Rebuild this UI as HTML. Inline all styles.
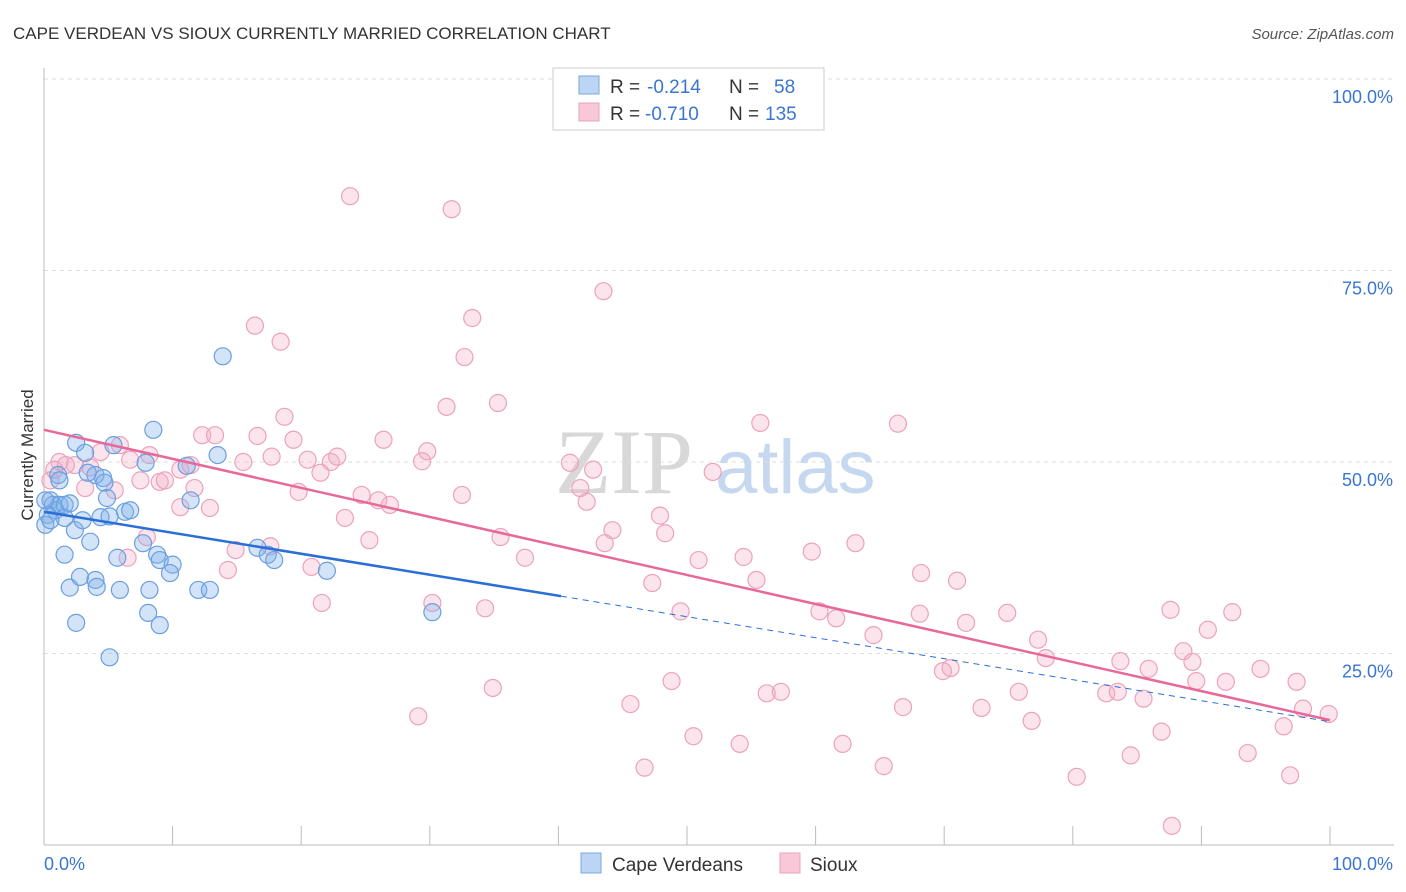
<!DOCTYPE html>
<html><head><meta charset="utf-8"><style>
body{margin:0;background:#fff;font-family:"Liberation Sans",sans-serif}
svg{display:block}
</style></head><body>
<svg id="chart" width="1406" height="892">
<text x="13" y="39" font-size="17" fill="#333">CAPE VERDEAN VS SIOUX CURRENTLY MARRIED CORRELATION CHART</text>
<text x="1394" y="39" font-size="15" fill="#555" font-style="italic" text-anchor="end">Source: ZipAtlas.com</text>
<g>
<text x="555" y="493" font-family="Liberation Serif,serif" font-size="92" fill="#d8d8d8">ZIP</text>
<text x="715" y="493" font-size="76" fill="#c5d8ef">atlas</text>
</g>
<g id="grid"></g>
<g id="axes"></g>
<g id="pts"></g>
<g id="lines"></g>
<text x="33" y="455" font-size="17" fill="#333" text-anchor="middle" transform="rotate(-90 33 455)">Currently Married</text>
<g>
<rect x="553" y="68" width="271" height="62" fill="#fff" stroke="#ccc"/>
<rect x="579" y="76" width="20" height="18" fill="#bcd5f5" stroke="#7aa8e0"/>
<rect x="579" y="103" width="20" height="18" fill="#f8c8d8" stroke="#eba0bb"/>
<text x="610" y="93" font-size="19" fill="#333">R =</text>
<text x="647" y="93" font-size="19" fill="#3a76d0">-0.214</text>
<text x="729" y="93" font-size="19" fill="#333">N =</text>
<text x="774" y="93" font-size="19" fill="#3a76d0">58</text>
<text x="610" y="120" font-size="19" fill="#333">R =</text>
<text x="645" y="120" font-size="19" fill="#3a76d0">-0.710</text>
<text x="729" y="120" font-size="19" fill="#333">N =</text>
<text x="765" y="120" font-size="19" fill="#3a76d0">135</text>
</g>
<g>
<rect x="581" y="853" width="20" height="20" fill="#bcd5f5" stroke="#7aa8e0"/>
<text x="612" y="871" font-size="19" fill="#333">Cape Verdeans</text>
<rect x="780" y="853" width="20" height="20" fill="#f8c8d8" stroke="#eba0bb"/>
<text x="810" y="871" font-size="19" fill="#333">Sioux</text>
</g>
</svg>
<script>
const yTicks=[100,75,50,25];
const yTickLabels=["100.0%","75.0%","50.0%","25.0%"];
const xTickLabels=["0.0%","100.0%"];
const blue=[[0.5,45.0],[0.7,44.4],[0.9,43.7],[1.2,44.4],[1.6,44.4],[2.0,44.6],[0.3,43.1],[0.1,41.8],[1.1,48.3],[2.5,52.5],[3.2,51.2],[4.0,48.3],[4.6,47.9],[4.7,47.3],[3.4,48.6],[5.4,52.2],[4.9,45.3],[1.6,42.7],[2.4,41.1],[3.0,42.4],[3.6,39.6],[4.4,42.8],[5.1,42.9],[6.3,43.5],[6.7,43.7],[7.9,49.9],[8.5,54.2],[5.7,37.5],[7.7,39.4],[8.8,37.9],[9.0,37.2],[10.0,36.6],[9.8,35.5],[1.6,37.9],[2.0,33.6],[2.8,35.0],[4.0,34.6],[4.1,33.7],[5.9,33.3],[8.2,33.3],[8.1,30.3],[9.0,28.7],[2.5,29.0],[5.1,24.5],[12.0,33.3],[12.9,33.3],[11.4,45.0],[11.1,49.5],[13.9,63.8],[13.5,50.9],[16.6,38.8],[17.4,37.9],[17.9,37.2],[22.0,35.8],[30.2,30.4],[1.2,47.6],[0.5,42.4],[0.1,45.0]];
const pink=[[23.8,84.7],[31.7,83.0],[43.5,72.3],[16.4,67.8],[18.4,65.7],[33.3,68.8],[32.7,63.7],[31.3,57.2],[35.3,57.7],[18.7,55.9],[55.7,55.1],[66.4,55.0],[12.3,53.5],[13.3,53.5],[19.4,52.9],[16.6,53.4],[26.4,52.9],[29.8,51.4],[5.9,52.2],[4.4,51.3],[1.2,50.0],[2.4,49.6],[3.6,49.3],[6.7,50.3],[8.2,50.9],[10.6,49.0],[11.4,49.6],[15.5,50.0],[17.7,50.7],[20.5,50.3],[22.3,50.0],[22.8,50.7],[29.4,50.1],[40.9,49.9],[42.7,49.0],[52.0,48.7],[21.5,48.6],[7.5,47.6],[9.0,47.4],[9.4,47.6],[5.5,46.3],[3.2,46.6],[11.7,46.6],[19.8,46.1],[24.7,45.7],[26.0,45.0],[26.9,44.4],[32.5,45.7],[41.7,46.6],[42.2,44.8],[12.9,44.0],[10.6,44.1],[23.4,42.7],[47.9,43.0],[44.2,41.1],[43.6,39.4],[35.5,40.2],[48.3,40.7],[14.9,38.5],[17.6,39.0],[25.3,39.8],[63.1,39.4],[59.7,38.3],[54.4,37.6],[50.9,37.2],[37.4,37.5],[14.3,35.9],[20.8,36.3],[6.5,37.5],[8.0,40.2],[68.2,35.5],[55.4,34.6],[71.0,34.5],[47.3,34.2],[34.3,30.9],[30.2,31.6],[21.6,31.6],[49.5,30.5],[60.3,30.5],[61.6,29.6],[68.1,30.2],[74.9,30.3],[87.6,30.7],[92.4,30.4],[64.5,27.4],[71.7,29.0],[90.5,28.1],[77.3,26.8],[77.9,24.4],[83.7,24.0],[88.6,25.3],[89.3,23.9],[85.9,23.0],[94.6,23.0],[70.5,23.1],[69.9,22.7],[48.8,21.4],[34.9,20.5],[89.6,21.4],[91.9,21.3],[97.4,21.3],[56.2,19.8],[57.3,20.0],[75.8,20.0],[82.6,19.8],[83.5,20.0],[85.5,19.1],[45.6,18.4],[66.8,18.0],[72.9,17.9],[99.9,17.1],[97.9,17.8],[29.1,16.8],[76.8,16.2],[96.4,15.5],[50.5,14.2],[54.1,13.2],[62.1,13.2],[86.9,14.8],[93.6,12.0],[84.5,11.7],[65.3,10.3],[46.7,10.1],[80.3,8.9],[96.9,9.1],[87.7,2.5],[0.5,47.6],[0.8,49.0],[1.7,49.6]];
const blueFit=[43.5,-0.274];
const pinkFit=[54.2,-0.379];
const NS="http://www.w3.org/2000/svg";
const X=v=>44+v*12.86, Y=v=>845-v*7.66;
function mk(t,a,p){const e=document.createElementNS(NS,t);for(const k in a)e.setAttribute(k,a[k]);p.appendChild(e);return e;}
const grid=document.getElementById('grid'),axes=document.getElementById('axes');
yTicks.forEach((t,i)=>{
 const l=mk('line',{x1:44,x2:1394,y1:Y(t),y2:Y(t),stroke:'#ddd','stroke-dasharray':'4,4'},grid);
 
 
 const tx=mk('text',{x:1393,y:Y(t)+24,'font-size':18,fill:'#3a76d0','text-anchor':'end'},axes);tx.textContent=yTickLabels[i];
 
 
});
mk('line',{x1:44,x2:44,y1:68,y2:845,stroke:'#bbb'},axes);
mk('line',{x1:44,x2:1394,y1:845,y2:845,stroke:'#bbb'},axes);
for(let i=0;i<=10;i++){const t=mk('line',{x1:X(i*10),x2:X(i*10),y1:826,y2:845,stroke:'#bbb'},axes);
 
 }
const a=mk('text',{x:44,y:870,'font-size':18,fill:'#3a76d0'},axes);a.textContent=xTickLabels[0];


const b=mk('text',{x:1393,y:870,'font-size':18,fill:'#3a76d0','text-anchor':'end'},axes);b.textContent=xTickLabels[1];


const pts=document.getElementById('pts');
pink.forEach(p=>{const c=mk('circle',{cx:X(p[0]),cy:Y(p[1]),r:8.5,fill:'rgba(244,170,196,0.32)',stroke:'#eca2bd','stroke-width':1.2},pts);
 
 });
blue.forEach(p=>{const c=mk('circle',{cx:X(p[0]),cy:Y(p[1]),r:8.5,fill:'rgba(130,178,235,0.35)',stroke:'#6a9fe0','stroke-width':1.2},pts);
 
 });
const lines=document.getElementById('lines');
const bmax=Math.max(...blue.map(p=>p[0]))+10;
let l1=mk('line',{x1:X(0),y1:Y(blueFit[0]),x2:X(bmax),y2:Y(blueFit[0]+blueFit[1]*bmax),stroke:'#2a6fd6','stroke-width':2.5},lines);


let l2=mk('line',{x1:X(bmax),y1:Y(blueFit[0]+blueFit[1]*bmax),x2:X(100),y2:Y(blueFit[0]+blueFit[1]*100),stroke:'#2a6fd6','stroke-width':1,'stroke-dasharray':'6,5'},lines);


let l3=mk('line',{x1:X(0),y1:Y(pinkFit[0]),x2:X(100),y2:Y(pinkFit[0]+pinkFit[1]*100),stroke:'#e8689a','stroke-width':2.5},lines);


</script>
</body></html>
